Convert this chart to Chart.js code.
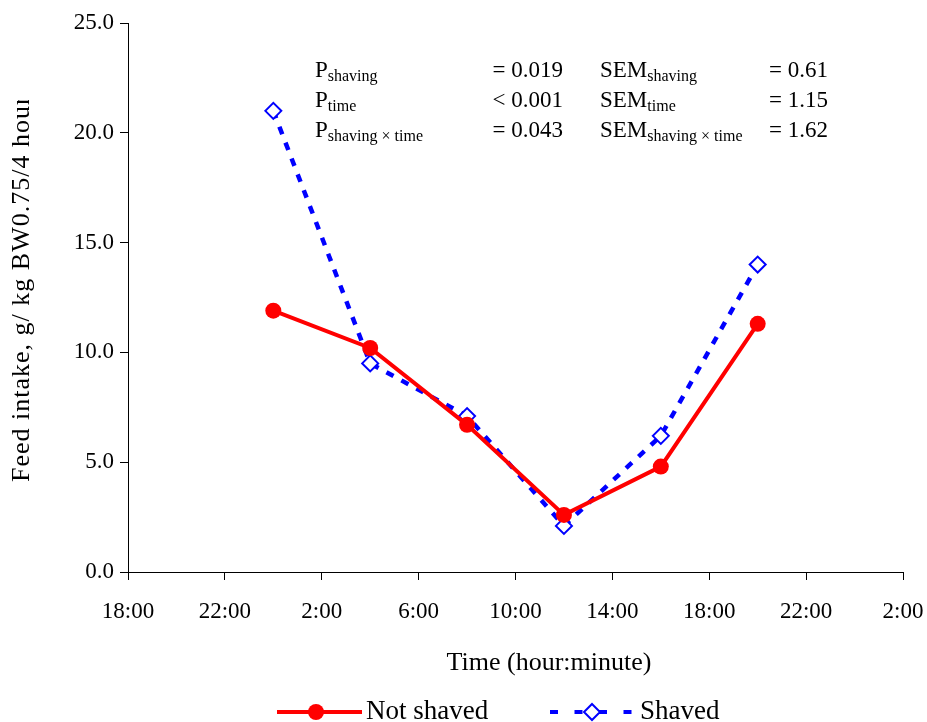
<!DOCTYPE html>
<html>
<head>
<meta charset="utf-8">
<title>Feed intake</title>
<script src="https://cdn.jsdelivr.net/npm/chart.js@4.4.1/dist/chart.umd.min.js"></script>
<style>
  html, body { margin: 0; padding: 0; background: #fff; }
  #wrap { width: 927px; height: 722px; position: relative; }
</style>
</head>
<body>
<div id="wrap"><canvas id="feedChart"></canvas></div>
<script>
// Sampling times, hours from 18:00 of day 0 (24 = 0:00, 28 = 4:00, ...)
const sampleHours = [24, 28, 32, 36, 40, 44];
const notShaved = [11.9, 10.2, 6.7, 2.6, 4.8, 11.3];
const shaved = [21.0, 9.5, 7.1, 2.1, 6.2, 14.0];

// Stats box text
const pLabels = ['shaving', 'time', 'shaving \u00d7 time'];
const pValues = ['= 0.019', '< 0.001', '= 0.043'];
const semValues = ['= 0.61', '= 1.15', '= 1.62'];

const serif = '"Liberation Serif", "Times New Roman", serif';
Chart.defaults.font.family = serif;
Chart.defaults.color = '#000';

function toPoints(vals) {
    return vals.map((v, i) => ({ x: sampleHours[i], y: v }));
}

function subText(ctx, x, y, main, sub) {
    ctx.font = '23px ' + serif;
    ctx.fillText(main, x, y);
    const w = ctx.measureText(main).width;
    ctx.font = '16px ' + serif;
    ctx.fillText(sub, x + w, y + 4);
}

// Stats, axis titles and legend
const extras = {
    id: 'extras',
    afterDraw(chart) {
        const ctx = chart.ctx;
        ctx.save();
        ctx.fillStyle = '#000';
        ctx.textBaseline = 'alphabetic';

        const rows = [77, 107, 137];
        rows.forEach((y, i) => {
            ctx.textAlign = 'left';
            subText(ctx, 315, y, 'P', pLabels[i]);
            subText(ctx, 600, y, 'SEM', pLabels[i]);
            ctx.textAlign = 'right';
            ctx.font = '23px ' + serif;
            ctx.fillText(pValues[i], 563, y);
            ctx.fillText(semValues[i], 828, y);
        });

        // x title
        ctx.font = '26px ' + serif;
        ctx.textAlign = 'center';
        ctx.textBaseline = 'middle';
        ctx.fillText('Time (hour:minute)', 549, 663);

        // y title (clipped at the top like the original)
        ctx.save();
        ctx.beginPath();
        ctx.rect(0, 100, 60, 400);
        ctx.clip();
        ctx.translate(22, 482);
        ctx.rotate(-Math.PI / 2);
        ctx.textAlign = 'left';
        ctx.font = '26px ' + serif;
        ctx.letterSpacing = '1px';
        ctx.fillText('Feed intake, g/ kg BW0.75/4 hours', 0, 0);
        ctx.restore();

        // legend
        const ly = 712;
        ctx.lineWidth = 4;
        ctx.strokeStyle = '#ff0000';
        ctx.beginPath();
        ctx.moveTo(277, ly);
        ctx.lineTo(362, ly);
        ctx.stroke();
        ctx.fillStyle = '#ff0000';
        ctx.beginPath();
        ctx.arc(316, ly, 8, 0, Math.PI * 2);
        ctx.fill();

        ctx.strokeStyle = '#0000ff';
        ctx.setLineDash([8, 16.5]);
        ctx.beginPath();
        ctx.moveTo(550, ly);
        ctx.lineTo(632, ly);
        ctx.stroke();
        ctx.setLineDash([]);
        ctx.fillStyle = '#fff';
        ctx.lineWidth = 2;
        ctx.beginPath();
        ctx.moveTo(592, ly - 8);
        ctx.lineTo(600, ly);
        ctx.lineTo(592, ly + 8);
        ctx.lineTo(584, ly);
        ctx.closePath();
        ctx.fill();
        ctx.stroke();

        ctx.fillStyle = '#000';
        ctx.font = '27px ' + serif;
        ctx.textAlign = 'left';
        ctx.fillText('Not shaved', 366, ly);
        ctx.fillText('Shaved', 640, ly);
        ctx.restore();
    }
};

new Chart(document.getElementById('feedChart'), {
    type: 'line',
    data: {
        datasets: [{
            label: 'Not shaved',
            data: toPoints(notShaved),
            borderColor: '#ff0000',
            backgroundColor: '#ff0000',
            borderWidth: 4,
            pointStyle: 'circle',
            pointRadius: 8,
            pointBackgroundColor: '#ff0000',
            pointBorderColor: '#ff0000',
            pointBorderWidth: 0,
            tension: 0,
            clip: false
        }, {
            label: 'Shaved',
            data: toPoints(shaved),
            borderColor: '#0000ff',
            backgroundColor: '#fff',
            borderWidth: 4.5,
            borderDash: [8, 9],
            pointStyle: 'rectRot',
            pointRadius: 8,
            pointBackgroundColor: '#fff',
            pointBorderColor: '#0000ff',
            pointBorderWidth: 2,
            tension: 0,
            clip: false
        }]
    },
    options: {
        responsive: true,
        maintainAspectRatio: false,
        animation: false,
        layout: { padding: { top: 23, right: 24, left: 0, bottom: 0 } },
        plugins: {
            legend: { display: false },
            tooltip: { enabled: false }
        },
        scales: {
            x: {
                type: 'linear',
                min: 18,
                max: 50,
                afterFit: (s) => {
                    s.height = 150;
                    s.paddingLeft = 0;
                    s.paddingRight = 0;
                },
                grid: { drawOnChartArea: false, tickLength: 8, color: '#000' },
                border: { color: '#000', width: 1 },
                ticks: {
                    stepSize: 4,
                    padding: 18,
                    font: { size: 23 },
                    maxRotation: 0,
                    callback: (v) => (v % 24) + ':00'
                }
            },
            y: {
                min: 0,
                max: 25,
                afterFit: (s) => {
                    s.width = 128;
                    s.paddingTop = 0;
                    s.paddingBottom = 0;
                },
                grid: { drawOnChartArea: false, tickLength: 8, color: '#000' },
                border: { color: '#000', width: 1 },
                ticks: {
                    stepSize: 5,
                    padding: 6,
                    font: { size: 23 },
                    callback: (v) => v.toFixed(1)
                }
            }
        }
    },
    plugins: [extras]
});
</script>
</body>
</html>
